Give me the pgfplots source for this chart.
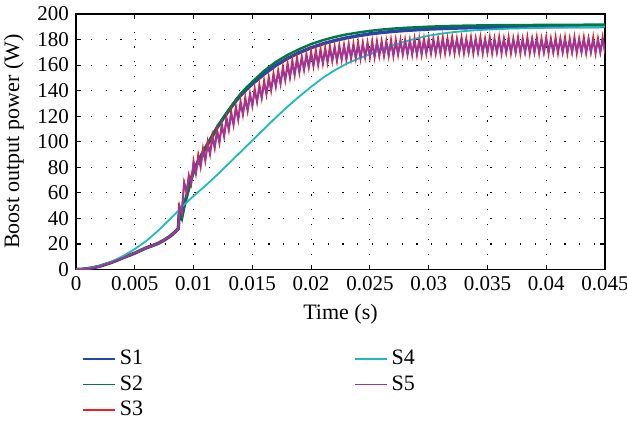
\documentclass[border=0pt]{standalone}
\usepackage{fontspec}
\setmainfont{Liberation Serif}
\usepackage{pgfplots}
\pgfplotsset{compat=1.18}
\usepackage{pgfplotstable}

\definecolor{cS1}{RGB}{40,70,170}
\definecolor{cS2}{RGB}{0,120,70}
\definecolor{cS3}{RGB}{240,30,30}
\definecolor{cS4}{RGB}{30,185,185}
\definecolor{cS5}{RGB}{155,55,155}

% S1 and S2: smooth rise after the step
\pgfplotstableread{
t s1 s2
0 0 0
0.0005 0.2 0.2
0.001 0.7 0.7
0.0015 1.5 1.5
0.002 2.5 2.5
0.0025 4 4
0.003 5.5 5.5
0.0035 7.3 7.3
0.004 9.2 9.2
0.0045 11 11
0.005 12.8 12.8
0.0055 15 15
0.006 17 17
0.0065 18.7 18.7
0.007 20.5 20.5
0.0075 23 23
0.008 26 26
0.0085 30 30
0.0087 32 32
0.0088 46 46
0.0090 41 41
0.0092 50 50
0.0094 57 57
0.0096 64 64
0.0098 71 71
0.010 77 77
0.0105 86.5 86.5
0.011 95 95
0.0115 103 103
0.012 111 111
0.0125 118 118
0.013 124.5 125
0.0135 130.8 131.5
0.014 136.3 137.5
0.0145 141 142.5
0.015 145.3 147
0.016 153 155.5
0.017 159.8 162.5
0.018 165.3 168
0.019 169.8 172.5
0.020 173.6 176.5
0.021 176.7 179.5
0.022 179.2 182
0.023 181.3 184
0.024 183 185.5
0.025 184.4 186.8
0.026 185.5 187.8
0.027 186.4 188.6
0.028 187.1 189.2
0.030 188.2 190.1
0.032 188.9 190.7
0.035 189.6 191.2
0.040 190 191.5
0.045 190.2 191.7
}\tabA

% S4: slow smooth curve
\pgfplotstableread{
t s4
0 0
0.001 0.8
0.002 2.8
0.003 6
0.004 10.5
0.005 16
0.006 22.5
0.007 30.5
0.008 39.5
0.0087 46
0.009 49
0.010 57.5
0.011 65.5
0.012 74
0.013 83
0.014 92
0.015 101
0.016 110
0.017 119
0.018 127.5
0.019 135.5
0.020 143
0.021 150
0.022 156
0.023 161
0.024 165
0.025 168.5
0.026 172
0.027 175.5
0.028 178.5
0.029 181
0.030 183
0.031 184.5
0.032 185.7
0.033 186.6
0.034 187.3
0.035 187.8
0.037 188.6
0.040 189.3
0.045 190
}\tabB

% S3 and S5: rippled response
\pgfplotstableread{
t s3 s5
0 0 0
0.0005 0.2 0.2
0.001 0.7 0.7
0.0015 1.5 1.5
0.002 2.5 2.5
0.0025 4 4
0.003 5.5 5.5
0.0035 7.3 7.3
0.004 9.2 9.2
0.0045 11 11
0.005 12.8 12.8
0.0055 15 15
0.006 17 17
0.0065 18.7 18.7
0.007 20.5 20.5
0.0075 23 23
0.008 26 26
0.0085 30 30
0.0087 32 32
0.0088 50 49
0.0090 44 45
0.0092 68 68
0.0094 60 61
0.0096 74 72
0.0098 67 68
0.0100 85 83
0.0102 75 76
0.0104 90 87
0.0106 80 81
0.0108 95 92
0.0110 85 86
0.0112 100 97
0.0114 90 91
0.0116 105 102
0.0118 95 96
0.0120 110 107
0.0122 99 100
0.0124 114 112
0.0126 104 105
0.0128 119 117
0.0130 109 110
0.0132 124 121
0.0134 113 114
0.0136 128 125
0.0138 117 118
0.0140 132 129
0.0142 121 122
0.0144 135 132
0.0146 124 125
0.0148 138 136
0.0150 128 129
0.0152 142 139
0.0154 131 132
0.0156 145 142
0.0158 134 135
0.0160 148 145
0.0162 137 138
0.0164 151 148
0.0166 140 141
0.0168 154 151
0.0170 143 144
0.0172 156 154
0.0174 145 146
0.0176 159 156
0.0178 148 149
0.0180 162 159
0.0182 150 151
0.0184 164 161
0.0186 152 153
0.0188 166 163
0.0190 154 155
0.0192 167 165
0.0194 156 157
0.0196 169 167
0.0198 158 159
0.0200 171 168
0.0202 159 160
0.0204 172 169
0.0206 160 161
0.0208 173 170
0.0210 161 162
0.0212 174 171
0.0214 162 163
0.0216 175 172
0.0218 163 164
0.0220 175 173
0.0222 163 164
0.0224 176 173
0.0226 164 165
0.0228 176 174
0.0230 164 165
0.0232 177 175
0.0234 165 166
0.0236 177 175
0.0238 165 166
0.0240 178 175
0.0242 165 166
0.0244 178 176
0.0246 166 167
0.0248 178 176
0.0250 166 167
0.0252 179 176
0.0254 166 167
0.0256 179 177
0.0258 167 168
0.0260 179 177
0.0262 167 168
0.0264 179 177
0.0266 167 168
0.0268 180 177
0.0270 167 168
0.0272 180 177
0.0274 168 169
0.0276 180 178
0.0278 168 169
0.0280 180 178
0.0282 168 169
0.0284 180 178
0.0286 168 169
0.0288 181 178
0.0290 168 169
0.0292 181 178
0.0294 168 169
0.0296 181 178
0.0298 169 170
0.0300 181 179
0.0302 169 170
0.0304 181 179
0.0306 169 170
0.0308 181 179
0.0310 169 170
0.0312 182 179
0.0314 169 171
0.0316 181 179
0.0318 170 170
0.0320 182 179
0.0322 169 171
0.0324 181 179
0.0326 170 170
0.0328 182 180
0.0330 169 171
0.0332 181 179
0.0334 170 170
0.0336 182 179
0.0338 169 171
0.0340 181 180
0.0342 170 170
0.0344 182 179
0.0346 169 171
0.0348 181 179
0.0350 170 170
0.0352 182 180
0.0354 169 171
0.0356 181 179
0.0358 170 170
0.0360 182 179
0.0362 169 171
0.0364 181 180
0.0366 170 170
0.0368 182 179
0.0370 169 171
0.0372 181 179
0.0374 170 170
0.0376 182 180
0.0378 169 171
0.0380 181 179
0.0382 170 170
0.0384 182 179
0.0386 169 171
0.0388 181 180
0.0390 170 170
0.0392 182 179
0.0394 169 171
0.0396 181 179
0.0398 170 170
0.0400 182 180
0.0402 169 171
0.0404 181 179
0.0406 170 170
0.0408 182 179
0.0410 169 171
0.0412 181 180
0.0414 170 170
0.0416 182 179
0.0418 169 171
0.0420 181 179
0.0422 170 170
0.0424 182 180
0.0426 169 171
0.0428 181 179
0.0430 170 170
0.0432 182 179
0.0434 169 171
0.0436 181 180
0.0438 170 170
0.0440 182 179
0.0442 169 171
0.0444 181 179
0.0446 170 170
0.0448 182 180
0.0450 169 171
}\tabC

\begin{document}
\begin{tikzpicture}
\begin{axis}[
    scale only axis,
    width=264.5pt, height=127.75pt,
    xmin=0, xmax=0.045, ymin=0, ymax=200,
    xtick={0,0.005,0.01,0.015,0.02,0.025,0.03,0.035,0.04,0.045},
    xticklabels={0,0.005,0.01,0.015,0.02,0.025,0.03,0.035,0.04,0.045},
    scaled x ticks=false,
    ytick={0,20,...,200},
    /pgf/number format/assume math mode=true,
    tick align=inside, tick pos=both,
    major tick length=2.5pt,
    tick style={black, line width=0.6pt},
    axis line style={line width=0.9pt},
    grid=major,
    major grid style={black, line width=0.6pt, dash pattern=on 0.6pt off 6.8pt},
    ticklabel style={font=\fontsize{10.5}{12}\selectfont},
    label style={font=\fontsize{11}{13}\selectfont},
    xlabel={Time (s)},
    ylabel={Boost output power (W)},
    legend style={draw=none, fill=none, at={(axis description cs:0,-0.282)},
        anchor=north west, font=\fontsize{11}{13}\selectfont,
        row sep=0pt,
        /tikz/every even column/.append style={column sep=103.5pt}},
    legend columns=3, transpose legend,
    legend cell align=left,
    legend image code/.code={\draw[#1, line width=0.8pt] (0cm,0cm) -- (0.56cm,0cm);},
]
\addplot[cS1, line width=1.7pt, no markers] table[x=t, y=s1] {\tabA};
\addlegendentry{S1}
\addplot[cS2, line width=1.2pt, no markers] table[x=t, y=s2] {\tabA};
\addlegendentry{S2}
\addplot[cS3, line width=0.9pt, no markers] table[x=t, y=s3] {\tabC};
\addlegendentry{S3}
\addplot[cS4, line width=0.9pt, no markers] table[x=t, y=s4] {\tabB};
\addlegendentry{S4}
\addplot[cS5, line width=0.9pt, no markers] table[x=t, y=s5] {\tabC};
\addlegendentry{S5}
\end{axis}
\pgfresetboundingbox
\path[use as bounding box] (-38pt,-77.25pt) rectangle (275.5pt,134.75pt);
\end{tikzpicture}
\end{document}
